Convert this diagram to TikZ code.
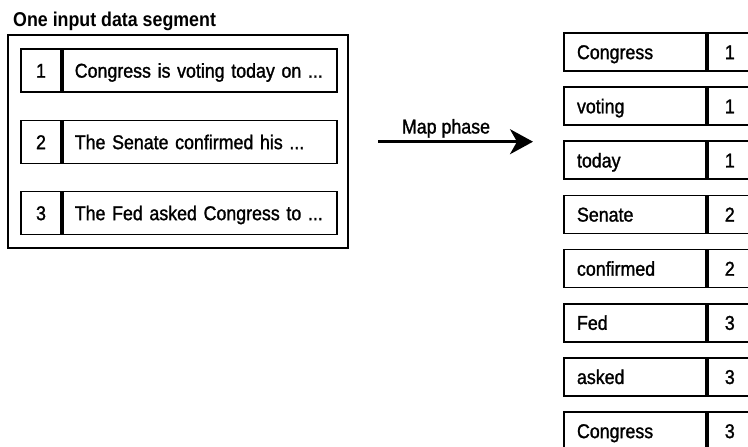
\documentclass[tikz,border=0pt]{standalone}
\usepackage{fontspec}
\setmainfont{Liberation Sans}[FakeStretch=0.89]
\newfontfamily\bodyfont{Liberation Sans}[FakeStretch=0.89, FakeBold=1.3]
\usetikzlibrary{arrows.meta}
\begin{document}
\begin{tikzpicture}[x=1pt,y=-1pt,
  txt/.style={font=\bodyfont\fontsize{20}{24}\selectfont},
  cell/.style={draw, line width=1.8pt, rectangle, inner sep=0pt, txt, text height=14.3pt, text depth=0pt},
  lnum/.style={cell, minimum width=40pt, minimum height=43pt},
  ltxt/.style={cell, minimum height=43pt, text width=250pt, inner xsep=12pt, align=left},
  rword/.style={cell, minimum height=38pt, text width=116pt, inner xsep=13pt, align=left},
  rnum/.style={cell, minimum width=44pt, minimum height=38pt},
  flow/.style={line width=2.8pt, -{Stealth[length=23pt,width=25pt,inset=7pt]}}
]
\useasboundingbox (0,0) rectangle (748,447);
\clip (0,0) rectangle (748,447);

% left segment
\node[anchor=base west, inner sep=0pt, font=\fontsize{20}{24}\selectfont\bfseries] (title) at (13,26.7) {One input data segment};
\node[draw, line width=1.8pt, minimum width=340pt, minimum height=213pt, inner sep=0pt] (seg) at (178,141.5) {};

\node[lnum] (n1) at (41,70.5) {1};
\node[ltxt, anchor=west] (t1) at (n1.east) {Congress is voting today on ...};
\node[lnum] (n2) at (41,142) {2};
\node[ltxt, anchor=west] (t2) at (n2.east) {The Senate confirmed his ...};
\node[lnum] (n3) at (41,213) {3};
\node[ltxt, anchor=west] (t3) at (n3.east) {The Fed asked Congress to ...};

% arrow
\coordinate (as) at (378,141.7);
\coordinate (ae) at (533,141.7);
\draw[flow] (as) -- (ae);
\node[anchor=base, inner sep=0pt, txt] (map) at (446,133.5) {Map phase};

% right key/value pairs
\foreach \w/\c [count=\i] in {Congress/1, voting/1, today/1, Senate/2, confirmed/2, Fed/3, asked/3, Congress/3}{
  \node[rword] (w\i) at (635, {52+54.14*(\i-1)}) {\w};
  \node[rnum, anchor=west] (c\i) at (w\i.east) {\c};
}
\end{tikzpicture}
\end{document}
